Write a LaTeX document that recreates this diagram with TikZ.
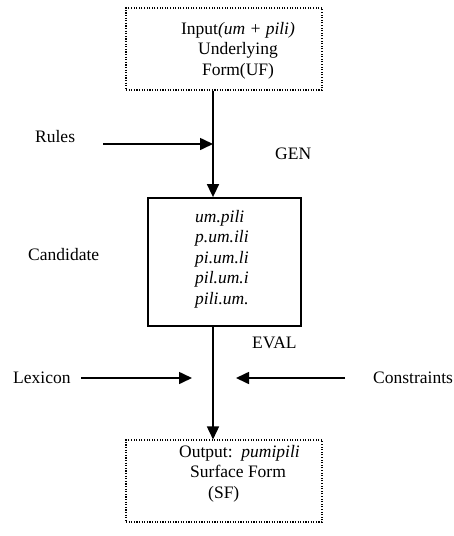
\documentclass[tikz,border=0pt]{standalone}
\usepackage{fontspec}
\setmainfont{Liberation Serif}
\usepackage{tikz}
\usetikzlibrary{positioning,arrows.meta}
\tikzset{
	dotbox/.style={%
		draw, line width=1.1pt,
		dash pattern=on 1.1pt off 1.5pt,
		minimum width=#1,
		minimum height=82pt,
		inner sep=0pt
	},
	dotbox/.default=196pt,
	candbox/.style={%
		draw, line width=1.8pt,
		minimum width=153pt,
		minimum height=128pt,
		inner sep=0pt
	},
	lbl/.style={inner sep=0pt, anchor=base west},
	boxtext/.style={inner sep=0pt, font=\fontsize{17.5}{20.5}\selectfont},
	flow/.style={line width=1.6pt, -{Triangle[length=13pt,width=12pt]}},
	>=LaTeX
}

\begin{document}
\begin{tikzpicture}[x=1pt,y=-1pt,font=\fontsize{17.5}{20.5}\selectfont]
		\useasboundingbox (0,0) rectangle (454,536);
		
		% the three boxes
		\node[dotbox] (ufbox) at (224,49) {};
		\node[candbox] (cand) at (224.5,262) {};
		\node[dotbox] (sfbox) at (224,481) {};
		
		% text in the boxes
		\node[boxtext, align=center, anchor=north] (uftext) at (238,22)
			{Input\textit{(um + pili)}\\Underlying\\Form(UF)};
		\node[boxtext, align=left, anchor=north west] (candtext) at (195,210)
			{\textit{um.pili}\\\textit{p.um.ili}\\\textit{pi.um.li}\\\textit{pil.um.i}\\\textit{pili.um.}};
		\node[boxtext, align=left, anchor=north west] (sftext) at (179,445)
			{Output:\ \ \textit{pumipili}\\\hspace*{11pt}Surface Form\\\hspace*{29pt}(SF)};
		
		% labels
		\node[lbl] (rules) at (35,142) {Rules};
		\node[lbl] (gen) at (275,159) {GEN};
		\node[lbl] (candidate) at (28,260) {Candidate};
		\node[lbl] (eval) at (252,348) {EVAL};
		\node[lbl] (lexicon) at (13,383) {Lexicon};
		\node[lbl] (constraints) at (373,383) {Constraints};
		
		% arrow ends
		\coordinate (axis) at (213,0);
		\coordinate (rulesfrom) at (103,144);
		\coordinate (lexfrom) at (81,378);
		\coordinate (lexto) at (192,378);
		\coordinate (confrom) at (345,378);
		\coordinate (conto) at (236,378);
		
		% arrows
		\draw[flow] (ufbox.south -| axis) -- (cand.north -| axis);
		\draw[flow] (rulesfrom) -- (rulesfrom -| axis);
		\draw[flow] (cand.south -| axis) -- (sfbox.north -| axis);
		\draw[flow] (lexfrom) -- (lexto);
		\draw[flow] (confrom) -- (conto);
		
\end{tikzpicture}
\end{document}
